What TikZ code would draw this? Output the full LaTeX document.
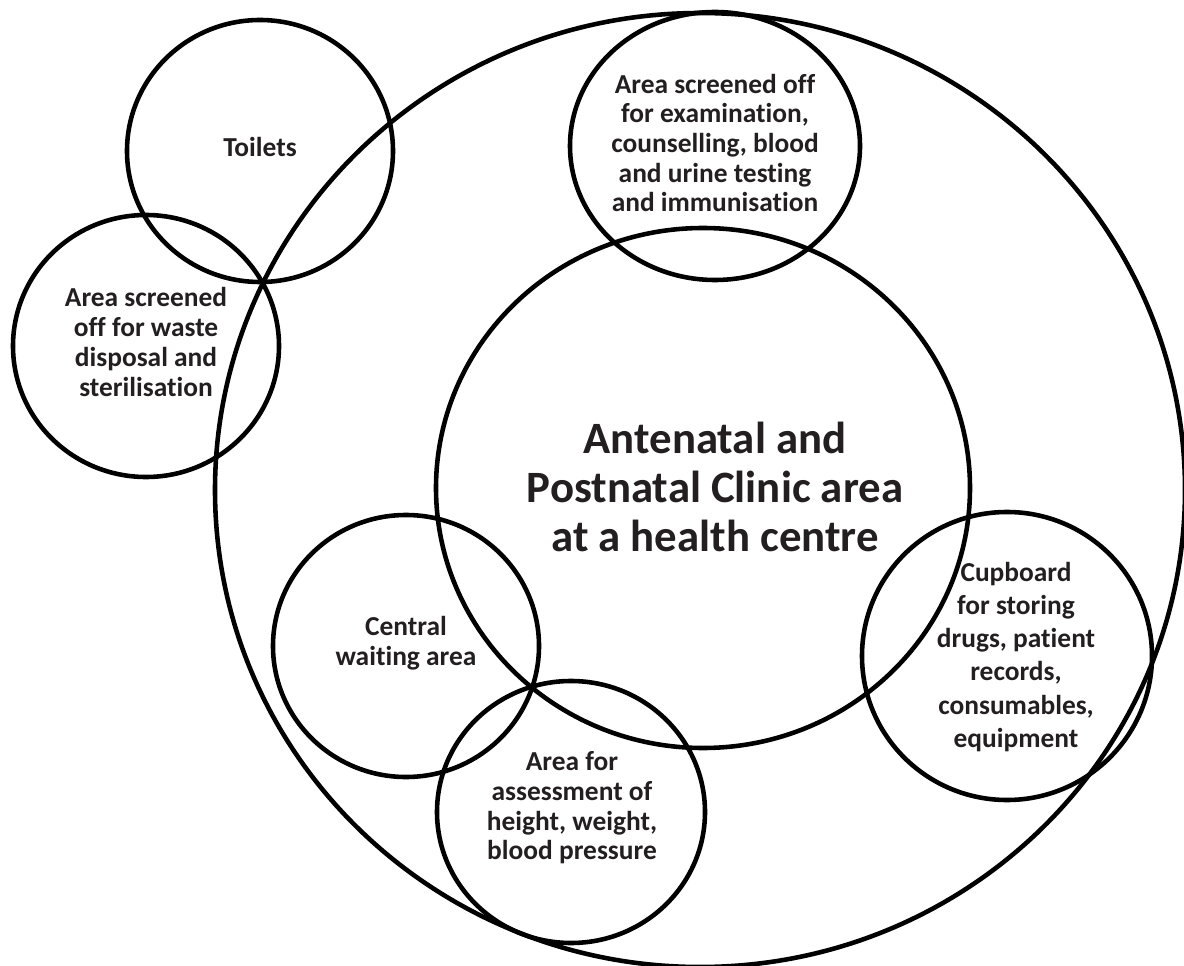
\documentclass[tikz,border=0pt]{standalone}
\usepackage{fontspec}
\setmainfont{Carlito}[Ligatures=NoCommon]
\definecolor{ink}{HTML}{231F20}

\begin{document}
\begin{tikzpicture}[x=0.02cm, y=-0.02cm,
    ring/.style={line width=2.6pt},
    lbl/.style={text=ink, align=center, inner sep=0pt,
      font=\fontsize{15.6}{16.9}\selectfont\bfseries}]
    \useasboundingbox (0, 0) rectangle (1184, 966);
    % rooms
    \draw [ring] (700, 490) ellipse [x radius=485, y radius=477];
    \draw [ring] (703, 488) ellipse [x radius=267, y radius=260];
    \draw [ring] (715, 146) ellipse [x radius=145, y radius=134];
    \draw [ring] (260, 151) ellipse [x radius=133, y radius=131];
    \draw [ring] (146, 346) ellipse [x radius=133, y radius=131];
    \draw [ring] (406, 646) ellipse [x radius=133, y radius=131];
    \draw [ring] (571, 812) ellipse [x radius=134, y radius=131];
    \draw [ring] (1007, 656) ellipse [x radius=145, y radius=144];
    % labels
    \node [lbl, font=\fontsize{25.5}{27.9}\selectfont\bfseries] (clinic) at (715, 487)
      {Antenatal and\\Postnatal Clinic area\\at a health centre};
    \node [lbl] (toilets) at (260, 147) {Toilets};
    \node [lbl] (waste) at (146, 342) {Area screened\\off for waste\\disposal and\\sterilisation};
    \node [lbl] (exam) at (715, 143) {Area screened off\\for examination,\\counselling, blood\\and urine testing\\and immunisation};
    \node [lbl] (waiting) at (406, 643) {Central\\waiting area};
    \node [lbl] (assess) at (572, 808) {Area for\\assessment of\\height, weight,\\blood pressure};
    \node [lbl, font=\fontsize{15.6}{18.8}\selectfont\bfseries] (cupboard) at (1016, 657)
      {Cupboard\\for storing\\drugs, patient\\records,\\consumables,\\equipment};
\end{tikzpicture}
\end{document}
